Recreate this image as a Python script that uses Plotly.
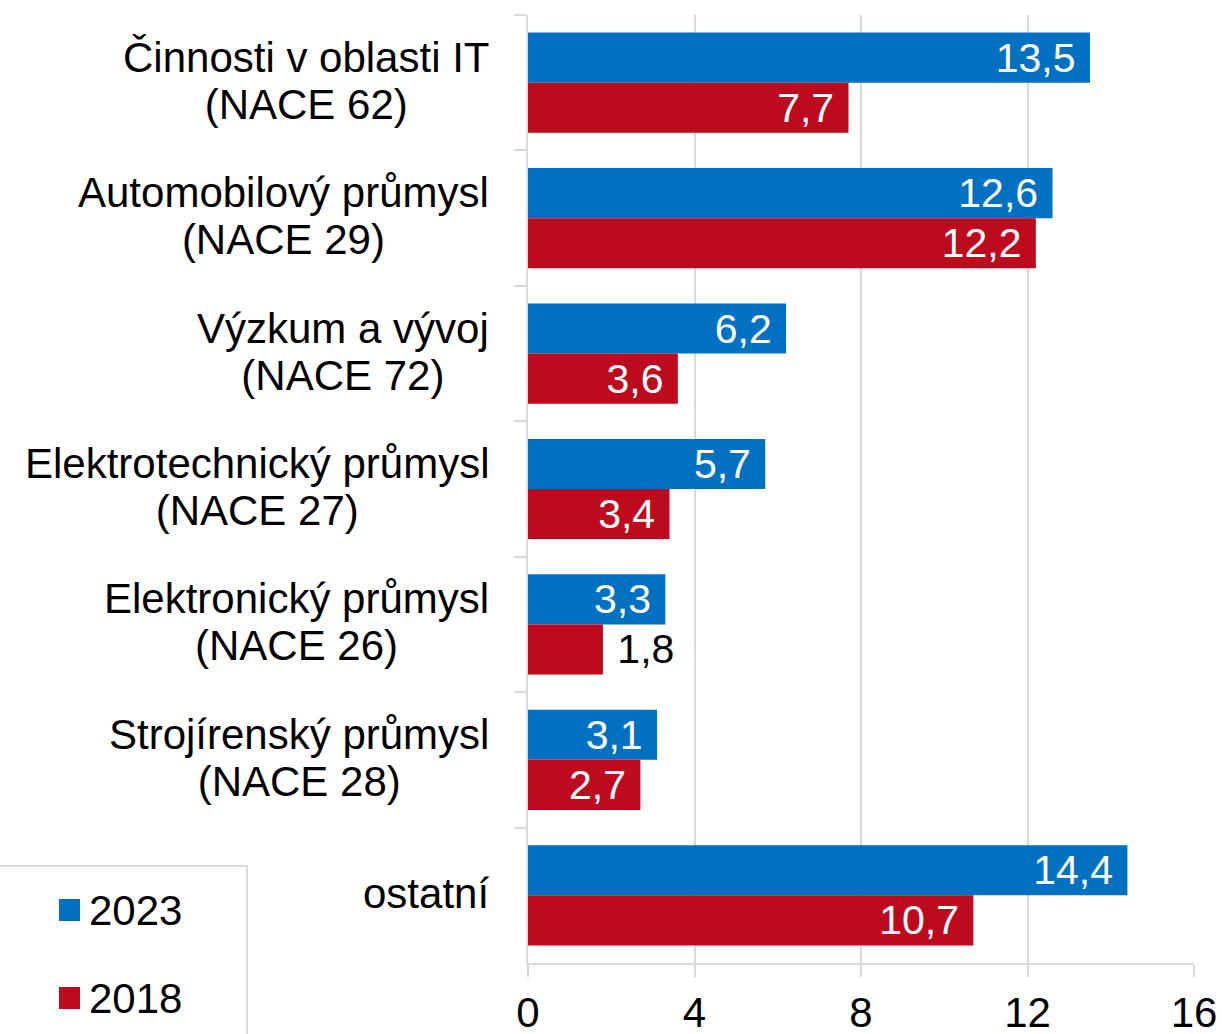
import plotly.graph_objects as go

categories = [
    'Činnosti v oblasti IT<br>(NACE 62)',
    'Automobilový průmysl<br>(NACE 29)',
    'Výzkum a vývoj<br>(NACE 72)',
    'Elektrotechnický průmysl<br>(NACE 27)',
    'Elektronický průmysl<br>(NACE 26)',
    'Strojírenský průmysl<br>(NACE 28)',
    'ostatní',
]
values_2023 = [13.5, 12.6, 6.2, 5.7, 3.3, 3.1, 14.4]
values_2018 = [7.7, 12.2, 3.6, 3.4, 1.8, 2.7, 10.7]
years = ['2023', '2018']
x_ticks = [0, 4, 8, 12, 16]

BLUE = '#0070C0'
RED = '#BE0A1E'
GRID = '#D9D9D9'
FONT = 'Liberation Sans, Arial, sans-serif'
SIZE = 41
LABEL_SIZE = 42
NBSP = '\u00a0'

# plot area in pixels, used to turn pixel offsets into paper coordinates
W, H = 1222, 1034
L, R, T, B = 528, 28, 15, 71
PW, PH = W - L - R, H - T - B


def px(x):
    return (x - L) / PW


def py(y):
    return (H - B - y) / PH


def labels(values, threshold=2.5):
    # small bars get their label outside, like the 1,8 bar
    pos = ['inside' if v >= threshold else 'outside' for v in values]
    txt = []
    for v, p in zip(values, pos):
        s = f'{v:.1f}'.replace('.', ',')
        txt.append(s + NBSP if p == 'inside' else NBSP + s)
    return txt, pos


fig = go.Figure()
for name, values, color in [(years[0], values_2023, BLUE), (years[1], values_2018, RED)]:
    txt, pos = labels(values)
    fig.add_trace(go.Bar(
        y=categories, x=values, name=name, orientation='h',
        marker=dict(color=color, line=dict(width=0)),
        text=txt, textposition=pos, insidetextanchor='end',
        insidetextfont=dict(color='white', size=SIZE, family=FONT),
        outsidetextfont=dict(color='black', size=SIZE, family=FONT),
        cliponaxis=False, showlegend=False,
    ))

# category labels: smaller base size keeps the line spacing tight,
# the spans bring the glyphs back up to full size
for cat in categories:
    text = '<br>'.join(f"<span style='font-size:{LABEL_SIZE}px'>{line}</span>" for line in cat.split('<br>'))
    fig.add_annotation(
        x=px(491), xref='paper', y=cat, yref='y', text=text, showarrow=False,
        xanchor='right', yanchor='middle', align='center', yshift=2,
        font=dict(size=36, color='black', family=FONT),
    )

# legend box, drawn by hand so it can hang off the page edge
fig.add_shape(
    type='rect', xref='paper', yref='paper',
    x0=px(-10), x1=px(247), y0=py(1050), y1=py(866),
    line=dict(color=GRID, width=2), fillcolor='white', layer='below',
)
for name, color, yc in [(years[0], BLUE, 910), (years[1], RED, 998)]:
    fig.add_shape(
        type='rect', xref='paper', yref='paper',
        x0=px(59), x1=px(80), y0=py(yc + 11), y1=py(yc - 11),
        line=dict(width=0), fillcolor=color,
    )
    fig.add_annotation(
        x=px(87), xref='paper', y=py(yc), yref='paper', text=name, showarrow=False,
        xanchor='left', yanchor='middle', font=dict(size=LABEL_SIZE, color='black', family=FONT),
    )

fig.update_layout(
    width=W, height=H,
    margin=dict(l=L, r=R, t=T, b=B, autoexpand=False),
    paper_bgcolor='white', plot_bgcolor='white',
    font=dict(family=FONT, size=SIZE, color='black'),
    barmode='group', bargap=0.26, bargroupgap=0,
    uniformtext=dict(minsize=SIZE, mode='show'),
    showlegend=False,
)
fig.update_xaxes(
    range=[0, 16], tickvals=x_ticks, showgrid=True, gridcolor=GRID, gridwidth=1.5,
    zeroline=False, showline=True, linecolor=GRID, linewidth=2,
    ticks='outside', ticklen=12, tickcolor=GRID, tickwidth=2,
    tickfont=dict(size=LABEL_SIZE, family=FONT), automargin=False,
)
fig.update_yaxes(
    autorange='reversed', showticklabels=False, showgrid=False,
    showline=True, linecolor=GRID, linewidth=2, automargin=False,
    ticks='outside', tickson='boundaries', ticklen=12, tickcolor=GRID, tickwidth=2,
)

fig.write_html('out.html', config={'displayModeBar': False},
               post_script="document.body.style.margin='0';")
